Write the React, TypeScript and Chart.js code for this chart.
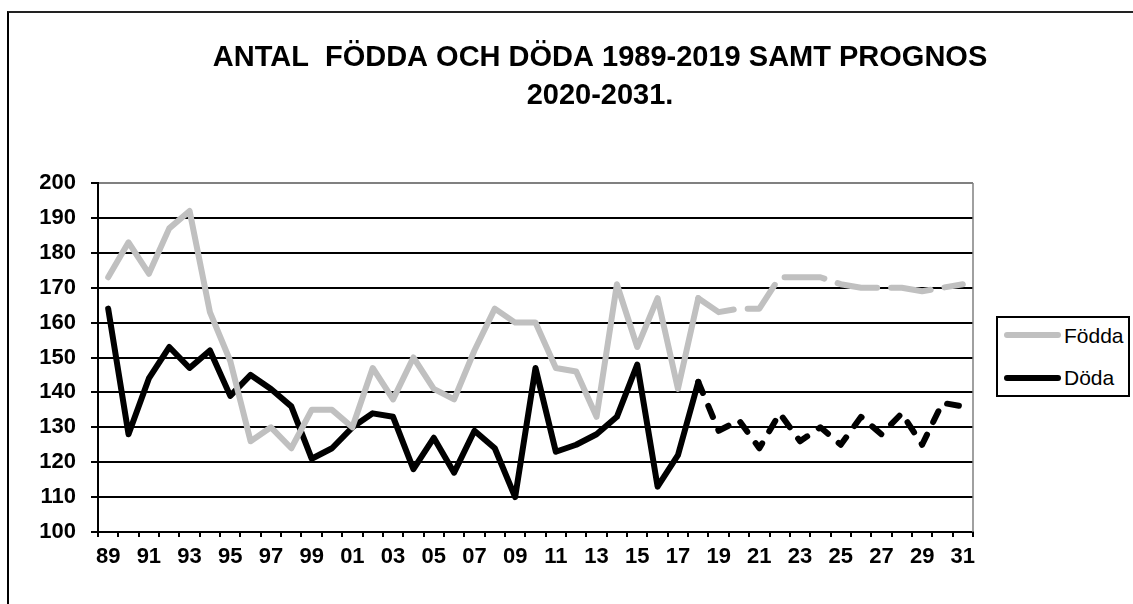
import React, { useEffect, useRef } from 'react';
import { Chart, registerables } from 'chart.js';

Chart.register(...registerables);

const TITLE_LINES = ['ANTAL  FÖDDA OCH DÖDA 1989-2019 SAMT PROGNOS', '2020-2031.'];

const YEARS = [
  '89', '90', '91', '92', '93', '94', '95', '96', '97', '98', '99',
  '00', '01', '02', '03', '04', '05', '06', '07', '08', '09',
  '10', '11', '12', '13', '14', '15', '16', '17', '18', '19',
  '20', '21', '22', '23', '24', '25', '26', '27', '28', '29', '30', '31',
];

const FODDA = [
  173, 183, 174, 187, 192, 163, 149, 126, 130, 124, 135,
  135, 130, 147, 138, 150, 141, 138, 152, 164, 160,
  160, 147, 146, 133, 171, 153, 167, 141, 167, 163,
  164, 164, 173, 173, 173, 171, 170, 170, 170, 169, 170, 171,
];

const DODA = [
  164, 128, 144, 153, 147, 152, 139, 145, 141, 136, 121,
  124, 130, 134, 133, 118, 127, 117, 129, 124, 110,
  147, 123, 125, 128, 133, 148, 113, 122, 143, 129,
  132, 124, 134, 126, 130, 125, 133, 128, 134, 125, 137, 136,
];

const SERIES_NAMES = ['Födda', 'Döda'];
const SERIES_COLORS = ['#c0c0c0', '#000000'];
const SERIES_DASH = [[40, 14], [12, 14]];
const FORECAST_FROM = 29; // index of year 18, last observed value

const Y_MIN = 100;
const Y_MAX = 200;
const Y_STEP = 10;

const TOP_PAD = 39;
const TITLE_SIZE = 29;
const TITLE_LH = 1.3;

const framePlugin = {
  id: 'framePlugin',
  afterLayout(chart: any) {
    const t = chart.titleBlock;
    if (t) {
      t.left = 200;
      t.right = 1000;
    }
  },
  beforeDatasetsDraw(chart: any) {
    const { ctx, chartArea: a } = chart;
    ctx.save();
    ctx.strokeStyle = '#808080';
    ctx.lineWidth = 1.5;
    ctx.beginPath();
    ctx.moveTo(a.right, a.top);
    ctx.lineTo(a.right, a.bottom);
    ctx.stroke();
    ctx.restore();
  },
};

export default function App() {
  const ref = useRef<HTMLCanvasElement | null>(null);

  useEffect(() => {
    if (!ref.current) return;
    const series = [FODDA, DODA];
    const chart = new Chart(ref.current, {
      type: 'line',
      data: {
        labels: YEARS,
        datasets: series.map((values, k) => ({
          label: SERIES_NAMES[k],
          data: values,
          borderColor: SERIES_COLORS[k],
          backgroundColor: SERIES_COLORS[k],
          borderWidth: 6,
          borderCapStyle: 'round',
          borderJoinStyle: 'round',
          pointRadius: 0,
          pointHoverRadius: 0,
          tension: 0,
          fill: false,
          segment: {
            borderDash: (c: any) => (c.p0DataIndex >= FORECAST_FROM ? SERIES_DASH[k] : undefined),
          },
        })),
      },
      options: {
        responsive: false,
        animation: false,
        devicePixelRatio: 1,
        layout: { padding: { left: 0, right: 160, top: TOP_PAD, bottom: 0 } },
        plugins: {
          legend: { display: false },
          tooltip: { enabled: false },
          title: {
            display: true,
            text: TITLE_LINES,
            color: '#000',
            font: { family: 'Liberation Sans', size: TITLE_SIZE, weight: 'bold', lineHeight: TITLE_LH },
            padding: { top: 0, bottom: 183 - TOP_PAD - 2 * TITLE_SIZE * TITLE_LH },
          },
        },
        scales: {
          x: {
            type: 'category',
            offset: true,
            grid: {
              offset: true,
              drawOnChartArea: false,
              drawTicks: true,
              tickLength: 5,
              color: '#000',
              lineWidth: 2,
            },
            border: { color: '#000', width: 2 },
            ticks: {
              autoSkip: false,
              maxRotation: 0,
              minRotation: 0,
              padding: 7,
              color: '#000',
              font: { family: 'Liberation Sans', size: 22, weight: 'bold' },
              callback: (_v: any, i: number) => (i % 2 === 0 ? YEARS[i] : ''),
            },
            afterFit: (s: any) => {
              s.height = 72;
            },
          },
          y: {
            min: Y_MIN,
            max: Y_MAX,
            grid: {
              color: (c: any) => (c.tick && c.tick.value === Y_MAX ? '#808080' : '#000'),
              tickColor: '#000',
              lineWidth: 2,
              tickLength: 7,
              drawTicks: true,
            },
            border: { color: '#000', width: 2 },
            ticks: {
              stepSize: Y_STEP,
              padding: 15,
              color: '#000',
              font: { family: 'Liberation Sans', size: 22, weight: 'bold' },
            },
            afterFit: (s: any) => {
              s.width = 98;
            },
          },
        },
      },
      plugins: [framePlugin],
    } as any);
    return () => chart.destroy();
  }, []);

  const legendText: React.CSSProperties = {
    position: 'absolute',
    left: 66,
    fontFamily: 'Liberation Sans',
    fontSize: 21,
    lineHeight: '24px',
    color: '#000',
    whiteSpace: 'nowrap',
  };
  const swatch = (color: string, top: number): React.CSSProperties => ({
    position: 'absolute',
    left: 6,
    top,
    width: 57,
    height: 6,
    borderRadius: 3,
    background: color,
  });

  return (
    <div>
      <canvas
        ref={ref}
        width={1133}
        height={604}
        style={{ position: 'fixed', left: 0, top: 0, width: 1133, height: 604 }}
      />
      <div
        style={{
          position: 'fixed',
          left: 7,
          top: 11,
          width: 1126,
          height: 593,
          borderTop: '2px solid #222',
          borderLeft: '2px solid #000',
          boxSizing: 'border-box',
          pointerEvents: 'none',
        }}
      />
      <div
        style={{
          position: 'fixed',
          left: 996,
          top: 316,
          width: 134,
          height: 81,
          border: '2px solid #000',
          boxSizing: 'border-box',
          background: '#fff',
        }}
      >
        <div style={swatch(SERIES_COLORS[0], 14)} />
        <div style={{ ...legendText, top: 6 }}>{SERIES_NAMES[0]}</div>
        <div style={swatch(SERIES_COLORS[1], 57)} />
        <div style={{ ...legendText, top: 48 }}>{SERIES_NAMES[1]}</div>
      </div>
    </div>
  );
}
